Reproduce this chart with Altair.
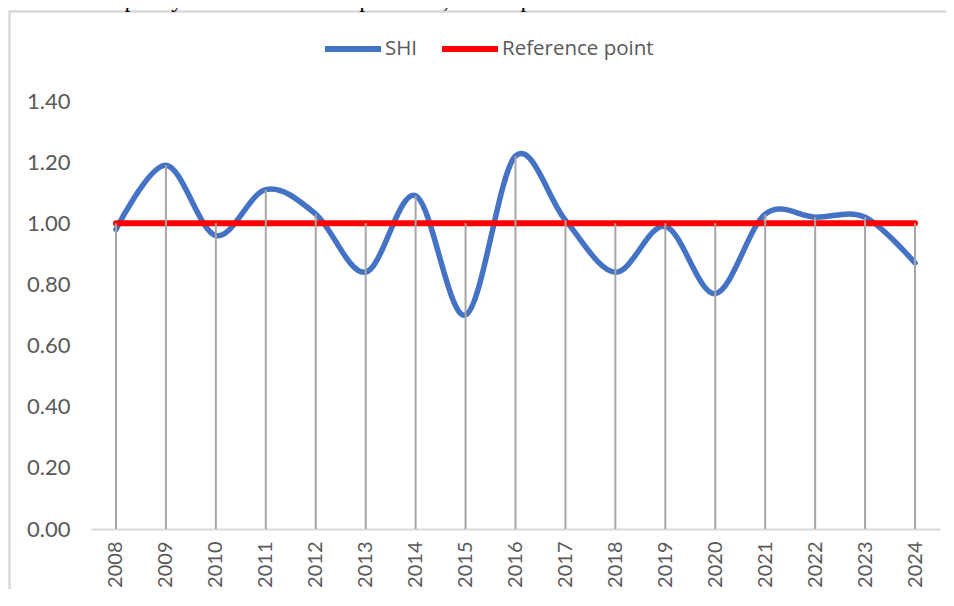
import altair as alt
import pandas as pd

years = ["2008", "2009", "2010", "2011", "2012", "2013", "2014", "2015", "2016",
         "2017", "2018", "2019", "2020", "2021", "2022", "2023", "2024"]
shi = [0.98, 1.19, 0.96, 1.11, 1.03, 0.84, 1.09, 0.70, 1.22,
       1.01, 0.84, 0.99, 0.77, 1.03, 1.02, 1.02, 0.87]
reference = [1.00, 1.00, 1.00, 1.00, 1.00, 1.00, 1.00, 1.00, 1.00,
             1.00, 1.00, 1.00, 1.00, 1.00, 1.00, 1.00, 1.00]
series_names = ["SHI", "Reference point"]
series_colors = ["#4472C4", "#FF0000"]
y_ticks = [0.0, 0.2, 0.4, 0.6, 0.8, 1.0, 1.2, 1.4]
caption = "ween fleet capacity and fish resource potential, with a possible indication of under"

wide = pd.DataFrame({"year": years, "SHI": shi, "ref": reference})
long = pd.concat([
    pd.DataFrame({"year": years, "series": "SHI", "value": shi}),
    pd.DataFrame({"year": years, "series": "Reference point", "value": reference}),
])

FONT = "Lato"
W, H = 849, 428

x_enc = alt.X(
    "year:O",
    sort=years,
    scale=alt.Scale(type="point", padding=0.5),
    axis=alt.Axis(
        title=None, labelAngle=270, labelFontSize=20, labelColor="#595959",
        labelFont=FONT, ticks=False, labelPadding=12, domainColor="#d9d9d9",
        domainWidth=2, grid=False,
    ),
)
y_scale = alt.Scale(domain=[0, 1.4], nice=False, zero=True)
y_enc = alt.Y(
    "value:Q",
    scale=y_scale,
    axis=alt.Axis(
        title=None, values=y_ticks, format=".2f", labelFontSize=22,
        labelColor="#595959", labelFont=FONT, ticks=False, domain=False,
        grid=False, labelPadding=21,
    ),
)
color_enc = alt.Color(
    "series:N",
    scale=alt.Scale(domain=series_names, range=series_colors),
    legend=alt.Legend(
        title=None, orient="none", direction="horizontal", legendX=231,
        legendY=-83, symbolType="stroke", symbolSize=3136, symbolStrokeWidth=6,
        labelFont="Open Sans", labelFontSize=20.5, labelColor="#595959",
        labelOffset=1, columnPadding=12, padding=0,
    ),
)

base = alt.Chart(long)

shi_line = base.transform_filter(alt.datum.series == "SHI").mark_line(
    interpolate="cardinal", strokeWidth=5.5, strokeCap="round"
).encode(x=x_enc, y=y_enc, color=color_enc)

ref_line = base.transform_filter(alt.datum.series == "Reference point").mark_line(
    strokeWidth=6, strokeCap="round"
).encode(x=x_enc, y=y_enc, color=color_enc)

drops = alt.Chart(wide).transform_calculate(
    top="max(datum.SHI, datum.ref)", zero="0"
).mark_rule(color="#a6a6a6", strokeWidth=2).encode(
    x=alt.X("year:O", sort=years),
    y=alt.Y("zero:Q", scale=y_scale),
    y2="top:Q",
)

frame = pd.DataFrame({"k": [0]})
border = alt.Chart(frame).mark_rect(
    fillOpacity=0, stroke="#d9d9d9", strokeWidth=2.5
).encode(
    x=alt.value(-81.5), x2=alt.value(900), y=alt.value(-89.5), y2=alt.value(540)
)
cap_text = alt.Chart(pd.DataFrame({"t": [caption]})).mark_text(
    align="left", baseline="alphabetic", font="Liberation Serif", fontSize=24,
    color="#000000",
).encode(x=alt.value(-93), y=alt.value(-94), text="t:N")

chart = alt.layer(
    border, cap_text, shi_line, ref_line, drops
).properties(
    width=W, height=H,
    autosize=alt.AutoSizeParams(type="none"),
    padding={"left": 83, "top": 93, "right": 6, "bottom": 60},
).configure_view(stroke=None)

chart.save("out.html", embed_options={"renderer": "svg", "actions": False})
